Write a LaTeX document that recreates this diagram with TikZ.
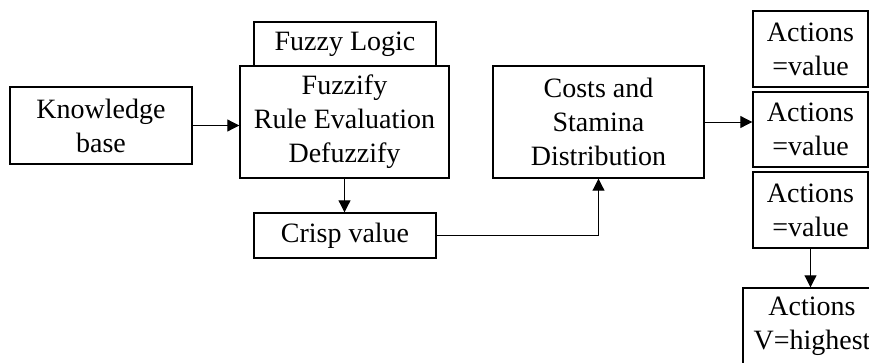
\documentclass[tikz,border=0pt]{standalone}
\usepackage{fontspec}
\setmainfont{Liberation Serif}
\usetikzlibrary{arrows.meta}
\begin{document}
\begin{tikzpicture}[x=1pt,y=-1pt,
  box/.style={draw,line width=1.4pt,inner sep=0pt,align=center,font=\fontsize{28}{34}\selectfont},
  arr/.style={line width=1pt,-{Triangle[width=12pt,length=12pt]}}]
\clip (0,0) rectangle (869,362);
\node [box,minimum width=182pt,minimum height=77pt] (kb) at (101,125.5) {Knowledge\\base};
\node [box,minimum width=182pt,minimum height=44pt] (logic) at (345,44) {Fuzzy Logic};
\node [box,minimum width=209pt,minimum height=112pt] (main) at (344.5,122) {Fuzzify\\Rule Evaluation\\Defuzzify};
\node [box,minimum width=182pt,minimum height=45pt] (crisp) at (345,235.5) {Crisp value};
\node [box,minimum width=211pt,minimum height=112pt] (costs) at (598.5,122) {Costs and\\Stamina\\Distribution};
\node [box,minimum width=115pt,minimum height=76pt] (act1) at (810.5,49) {Actions\\=value};
\node [box,minimum width=115pt,minimum height=75pt] (act2) at (810.5,129.5) {Actions\\=value};
\node [box,minimum width=115pt,minimum height=76pt] (act3) at (810.5,210) {Actions\\=value};
\node [box,minimum width=138pt,minimum height=76pt] (best) at (812,326) {Actions\\V=highest};
\draw[arr] (kb.east) -- (kb.east -| main.west);
\draw[arr] (main.south) -- (main.south |- crisp.north);
\draw[arr] (crisp.east) -| (costs.south);
\draw[arr] (costs.east) -- (costs.east -| act2.west);
\draw[arr] (act3.south) -- (act3.south |- best.north);
\end{tikzpicture}
\end{document}
